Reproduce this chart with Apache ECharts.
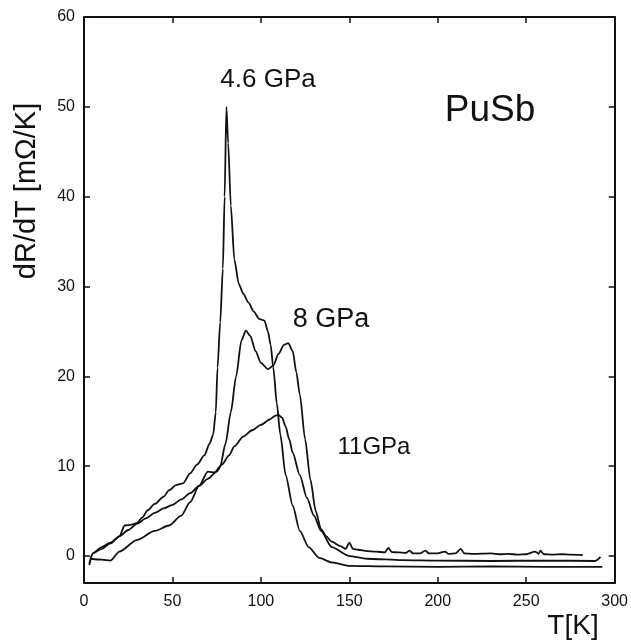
<!DOCTYPE html>
<html>
<head>
<meta charset="utf-8">
<script src="https://cdn.jsdelivr.net/npm/echarts@6/dist/echarts.min.js"></script>
<style>
  html, body { margin: 0; padding: 0; background: #fff; }
  #chart { width: 631px; height: 640px; }
</style>
</head>
<body>
<div id="chart"></div>
<script>
// temperature [K] and dR/dT [mOhm/K]
var t46 = [3, 5, 10, 15, 20, 23, 27, 30, 33, 36, 40, 45, 48, 52, 56, 60, 64, 68, 71, 73, 74.5, 75.5, 77, 78.5, 79.5, 80.5,
  81.5, 83, 85, 87.5, 90, 93, 96, 99, 102, 104, 105.5, 107, 109, 111, 114, 118, 122, 127, 133, 140, 150, 170, 200, 230, 260, 293];
var v46 = [-1, 0.3, 0.8, 1.4, 2.2, 3.4, 3.5, 3.7, 4.3, 5.1, 5.8, 6.6, 7.3, 7.9, 8.1, 9.2, 10.2, 11.2, 12.5, 13.5, 16, 21, 26, 32, 40, 50,
  46, 39, 33, 30.3, 29.2, 28.2, 27.2, 26.4, 26.2, 25, 23.5, 21, 17, 13.5, 9, 5.6, 2.8, 1, -0.2, -0.7, -1.1, -1.15, -1.2, -1.15, -1.2, -1.2];

var t8 = [4, 10, 15, 20, 30, 40, 48, 55, 60, 65, 70, 74, 77, 80, 83, 86, 89, 91.5, 94, 97, 100, 104, 107, 110, 113, 115.5, 118, 120,
  122, 125, 128, 131, 134, 137, 140, 145, 148, 150, 152, 155, 160, 165, 170, 172, 174, 178, 182, 184, 186, 190, 193, 195, 200, 204,
  206, 210, 213, 215, 220, 230, 235, 240, 245, 250, 255, 257, 258, 260, 265, 270, 275, 282];
var v8 = [-0.3, -0.4, -0.5, 0.5, 1.8, 2.8, 3.4, 4.5, 6, 7.8, 9.4, 9.3, 10, 12.5, 16, 20, 24, 25.1, 24.5, 22.8, 21.5, 20.8, 21.2, 22.5, 23.5, 23.7, 22.8, 20.5,
  18, 13, 8.5, 5, 3, 2.2, 1.6, 1.1, 0.8, 1.5, 0.8, 0.7, 0.55, 0.5, 0.4, 0.9, 0.45, 0.4, 0.35, 0.6, 0.3, 0.3, 0.6, 0.3, 0.3, 0.5,
  0.25, 0.3, 0.8, 0.3, 0.25, 0.3, 0.2, 0.25, 0.15, 0.2, 0.5, 0.25, 0.6, 0.2, 0.15, 0.2, 0.15, 0.1];

var t11 = [3, 5, 10, 15, 20, 25, 30, 35, 40, 45, 50, 55, 60, 65, 70, 75, 78, 82, 85, 90, 95, 100, 105, 108, 110, 112, 114, 116, 118, 122,
  126, 130, 134, 140, 150, 160, 180, 200, 230, 260, 289, 292];
var v11 = [-0.8, 0.3, 1, 1.5, 2.2, 2.9, 3.6, 4.2, 4.8, 5.3, 5.7, 6.3, 7, 7.8, 8.6, 9.4, 10.2, 11.2, 12.2, 13.3, 14, 14.6, 15.2, 15.6, 15.7, 15.4, 14.4, 13, 11.5, 9,
  6.5, 4.5, 2.8, 1, 0, -0.3, -0.45, -0.5, -0.55, -0.5, -0.55, -0.1];

var xTicks = [0, 50, 100, 150, 200, 250, 300];
var yTicks = [0, 10, 20, 30, 40, 50, 60];

function zip(t, v) {
  return t.map(function (x, i) { return [x, v[i]]; });
}

var chart = echarts.init(document.getElementById("chart"));
var font = "Liberation Sans, Arial, sans-serif";

function curve(name, t, v) {
  return {
    name: name,
    type: "line",
    data: zip(t, v),
    showSymbol: false,
    smooth: 0.25,
    smoothMonotone: "x",
    lineStyle: { color: "#111", width: 1.8 },
    xAxisIndex: 0,
    yAxisIndex: 0
  };
}

var xBase = {
  type: "value",
  min: 0,
  max: 300,
  interval: 50,
  splitLine: { show: false },
  axisLine: { show: true, onZero: false, lineStyle: { color: "#111", width: 2 } },
  axisTick: { inside: true, length: 6, lineStyle: { color: "#111", width: 1.5 } }
};
var yBase = {
  type: "value",
  min: -3,
  max: 60,
  splitLine: { show: false },
  axisLine: { show: true, onZero: false, lineStyle: { color: "#111", width: 2 } },
  axisTick: { inside: true, length: 6, customValues: yTicks, lineStyle: { color: "#111", width: 1.5 } }
};

var option = {
  backgroundColor: "#fff",
  animation: false,
  grid: { left: 84, top: 17, right: 15, bottom: 57 },
  xAxis: [
    Object.assign({}, xBase, {
      position: "bottom",
      axisLabel: { margin: 11, color: "#111", fontSize: 16, fontFamily: font, customValues: xTicks }
    }),
    Object.assign({}, xBase, { position: "top", axisLabel: { show: false } })
  ],
  yAxis: [
    Object.assign({}, yBase, {
      position: "left",
      axisLabel: { margin: 9, color: "#111", fontSize: 16, fontFamily: font, customValues: yTicks }
    }),
    Object.assign({}, yBase, { position: "right", axisLabel: { show: false } })
  ],
  graphic: [
    { type: "text", x: 27, y: 191, rotation: Math.PI / 2, style: { text: "dR/dT [mΩ/K]", font: "29px " + font, fill: "#111", align: "center", verticalAlign: "middle" } },
    { type: "text", x: 573, y: 626, style: { text: "T[K]", font: "28px " + font, fill: "#111", align: "center", verticalAlign: "middle" } },
    { type: "text", x: 490, y: 111, style: { text: "PuSb", font: "37px " + font, fill: "#111", align: "center", verticalAlign: "middle" } },
    { type: "text", x: 268, y: 80, style: { text: "4.6 GPa", font: "26px " + font, fill: "#111", align: "center", verticalAlign: "middle" } },
    { type: "text", x: 331, y: 320, style: { text: "8 GPa", font: "27px " + font, fill: "#111", align: "center", verticalAlign: "middle" } },
    { type: "text", x: 374, y: 447, style: { text: "11GPa", font: "24px " + font, fill: "#111", align: "center", verticalAlign: "middle" } }
  ],
  series: [
    curve("4.6 GPa", t46, v46),
    curve("8 GPa", t8, v8),
    curve("11 GPa", t11, v11)
  ]
};
option && chart.setOption(option);
</script>
</body>
</html>
